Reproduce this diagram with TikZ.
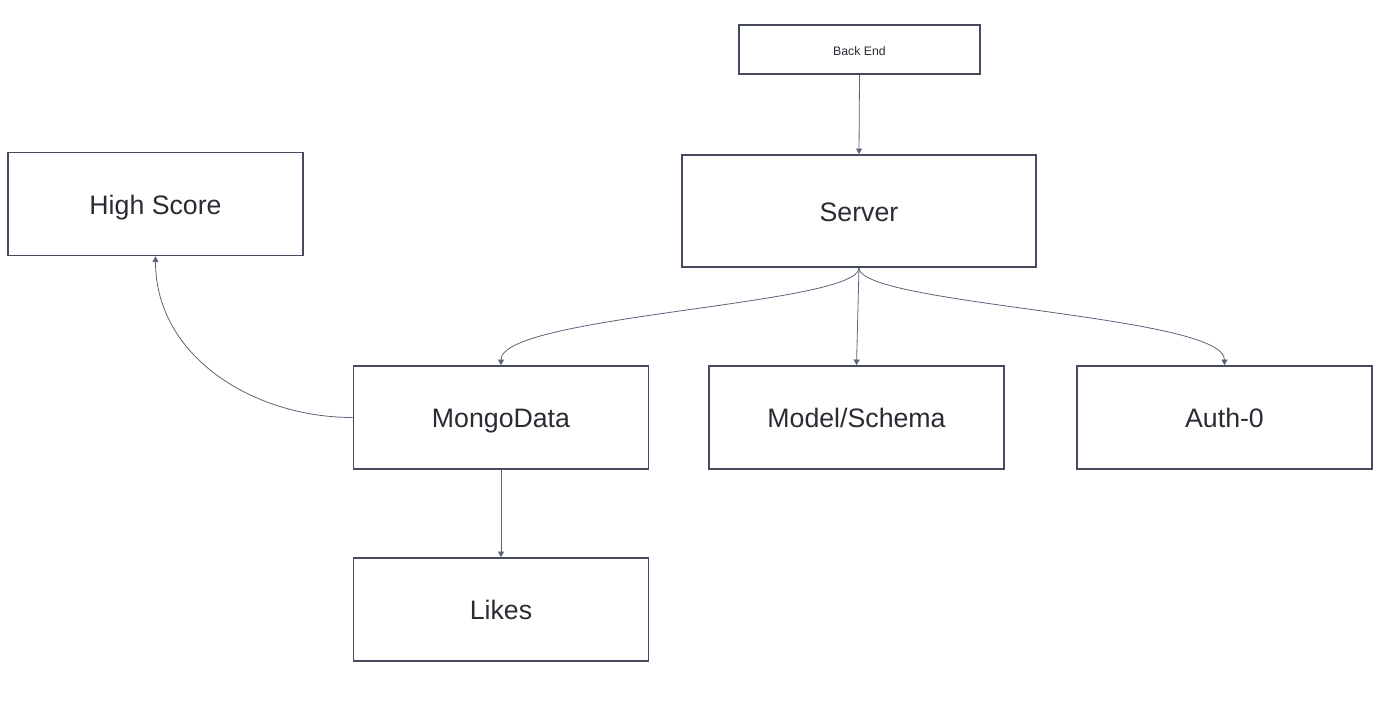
\documentclass[tikz,border=0pt]{standalone}
\usepackage{fontspec}
\setmainfont{Liberation Sans}
\usetikzlibrary{arrows.meta}
\definecolor{boxline}{HTML}{454A5C}
\definecolor{linkline}{HTML}{5C6278}
\definecolor{txt}{HTML}{2A2C33}
\begin{document}
\begin{tikzpicture}[x=0.02cm,y=-0.02cm,
    box/.style={draw=boxline,line width=0.95pt,minimum width=5.9cm,minimum height=2.06cm,
      font=\fontsize{15.2}{17}\selectfont,text=txt,inner sep=0pt,text height=11.7pt,text depth=0pt},
    link/.style={draw=linkline,line width=0.45pt,-{Triangle[length=3.2pt,width=3.4pt]}}]
  \useasboundingbox (0,0) rectangle (1400,702);
  \node[box,minimum width=4.82cm,minimum height=0.98cm,font=\fontsize{7}{8}\selectfont,text height=6.5pt] (backend) at (859.5,49.5) {Back End};
  \node[box,minimum width=7.08cm,minimum height=2.24cm] (server) at (859,211) {Server};
  \node[box] (highscore) at (155.5,204) {High Score};
  \node[box] (mongo) at (501,417.5) {MongoData};
  \node[box] (model) at (856.5,417.5) {Model/Schema};
  \node[box] (auth) at (1224.5,417.5) {Auth-0};
  \node[box] (likes) at (501,609.5) {Likes};
  % connectors
  \draw[link] (backend.south) -- (server.north);
  \draw[link] (server.south) .. controls (859,305) and (501,315) .. (mongo.north);
  \draw[link] (server.south) -- (mongo.north -| model.north);
  \draw[link] (server.south) .. controls (859,305) and (1224.5,315) .. (auth.north);
  \draw[link] (mongo.west) to[out=180,in=-90] (highscore.south);
  \draw[link] (mongo.south) -- (likes.north);
\end{tikzpicture}
\end{document}
